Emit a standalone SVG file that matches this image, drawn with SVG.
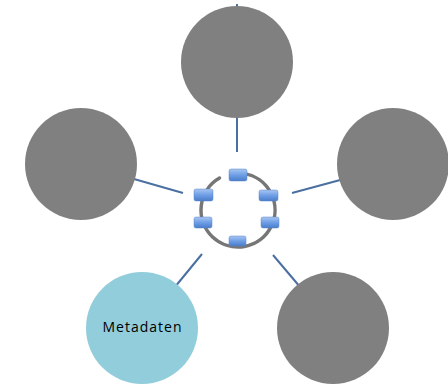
<svg xmlns="http://www.w3.org/2000/svg" width="448" height="385" viewBox="0 0 448 385">
<defs>
<linearGradient id="bg" x1="0" y1="0" x2="0" y2="1">
<stop offset="0" stop-color="#a9c6f0"/>
<stop offset="0.5" stop-color="#6e9ee6"/>
<stop offset="1" stop-color="#4a7cc8"/>
</linearGradient>
<style>
.node{fill:#808080}
.conn{stroke:#4a6fa0;stroke-width:2;fill:none}
.box{fill:url(#bg);stroke:#5b87cc;stroke-width:0.5}
.lbl{font-family:"Open Sans","Liberation Sans",Arial,sans-serif;font-size:14px;fill:#000}
</style>
</defs>
<rect width="448" height="385" fill="#fff"/>
<g id="connectors">
<line class="conn" x1="237" y1="4" x2="237" y2="152"/>
<line class="conn" x1="120" y1="175" x2="183" y2="193"/>
<line class="conn" x1="292" y1="193" x2="355" y2="176"/>
<line class="conn" x1="202" y1="254" x2="170" y2="293"/>
<line class="conn" x1="273" y1="255" x2="306" y2="294"/>
</g>
<g id="node-top"><circle class="node" cx="237" cy="62" r="56"/></g>
<g id="node-left"><circle class="node" cx="81" cy="164" r="56"/></g>
<g id="node-right"><circle class="node" cx="393" cy="164" r="56"/></g>
<g id="node-bottom-right"><circle class="node" cx="333" cy="328" r="56"/></g>
<g id="node-metadaten">
<circle cx="142" cy="328" r="56" fill="#92cddc"/>
<text class="lbl" x="142" y="332" text-anchor="middle" textLength="79" lengthAdjust="spacing">Metadaten</text>
</g>
<g id="hub">
<path d="M 219.5 178 A 37 37 0 1 0 244.4 173.6" fill="none" stroke="#767676" stroke-width="3.5" stroke-linecap="round"/>
<rect class="box" x="229" y="169" width="18" height="12" rx="2"/>
<rect class="box" x="194" y="189" width="19" height="12" rx="2"/>
<rect class="box" x="259" y="190" width="19" height="11" rx="2"/>
<rect class="box" x="194" y="217" width="18" height="11" rx="2"/>
<rect class="box" x="261" y="217" width="18" height="11" rx="2"/>
<rect class="box" x="229" y="236" width="17" height="10" rx="2"/>
</g>
</svg>
